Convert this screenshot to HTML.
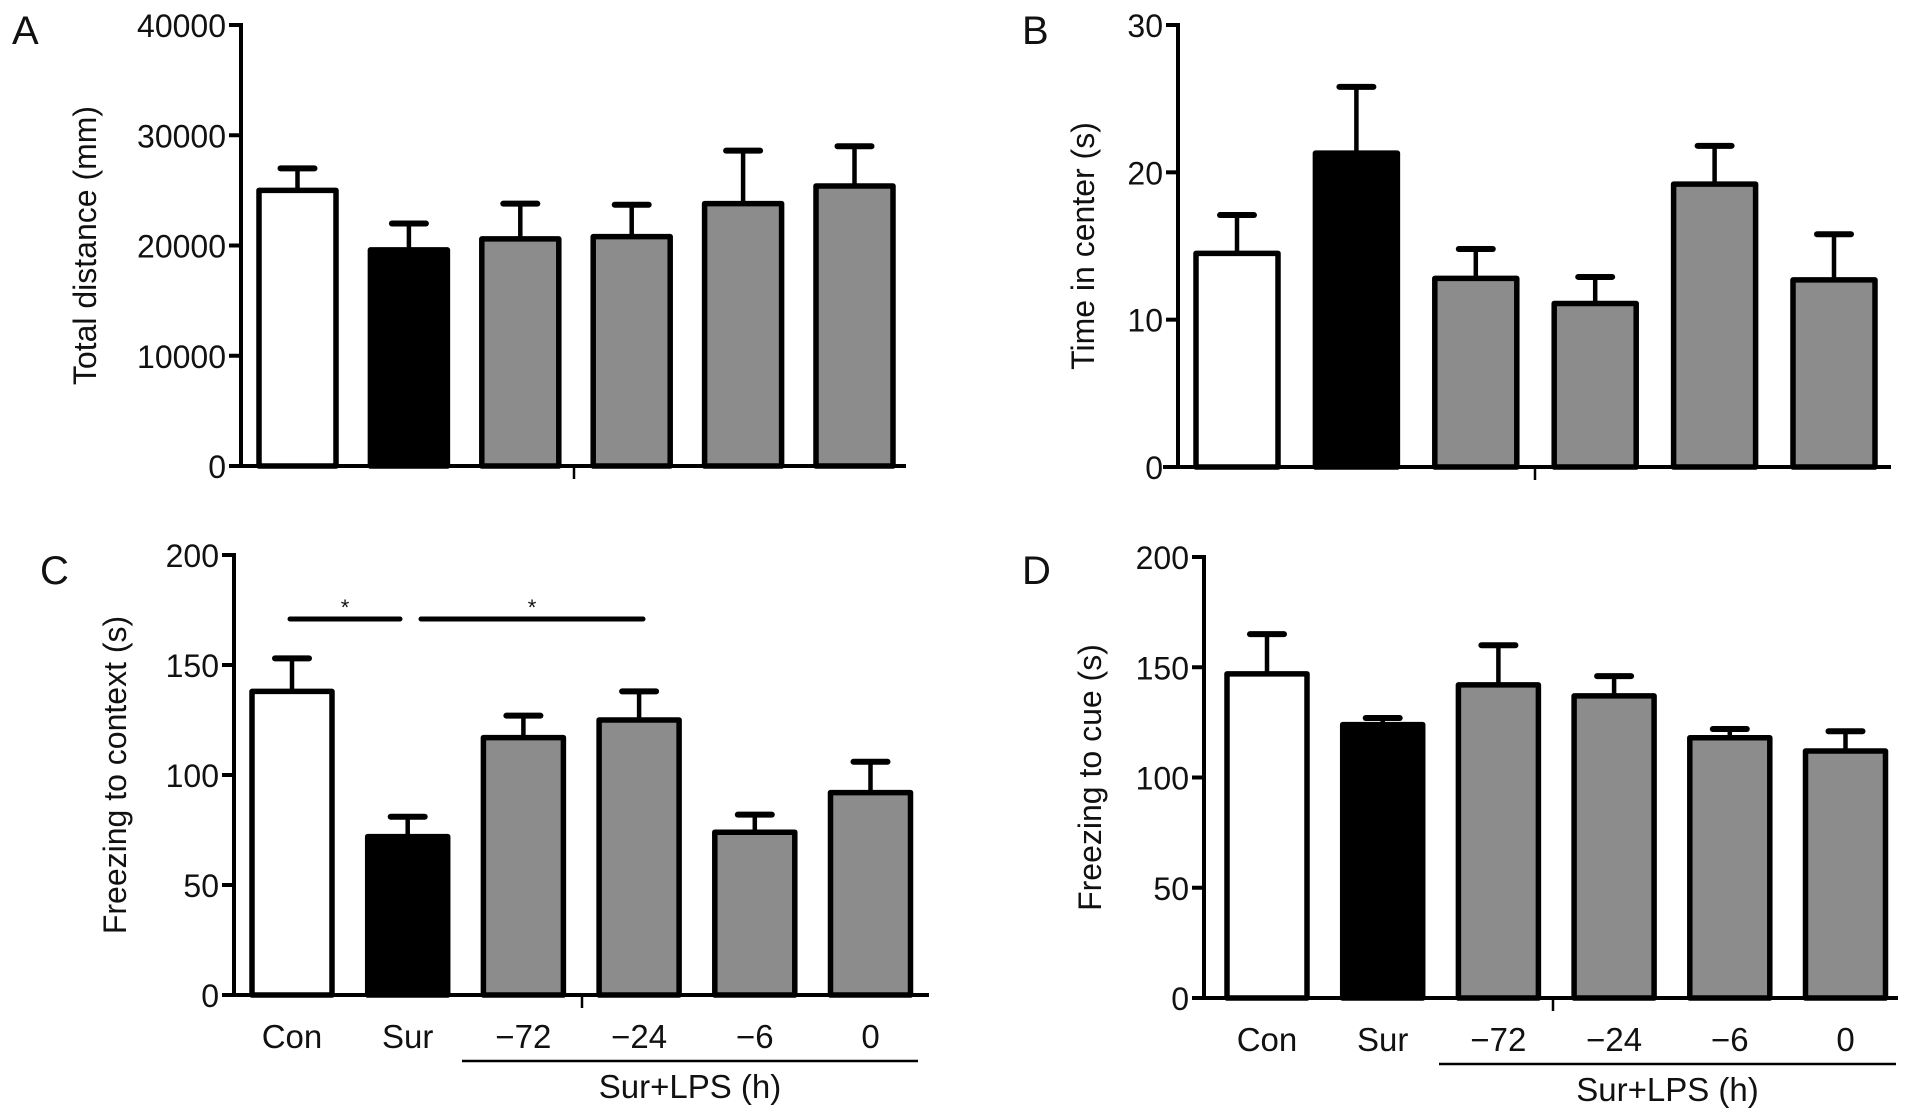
<!DOCTYPE html>
<html><head><meta charset="utf-8"><style>
html,body{margin:0;padding:0;background:#fff;overflow:hidden;}
svg{display:block;font-family:"Liberation Sans",Arial,sans-serif;}
</style></head><body>
<svg id="fig" width="1913" height="1115" viewBox="0 0 1913 1115"></svg>
<script>
const categories = ["Con","Sur","\u221272","\u221224","\u22126","0"];
const fills = ["#ffffff","#000000","#8c8c8c","#8c8c8c","#8c8c8c","#8c8c8c"];
const aMeans = [25000,19600,20600,20800,23800,25400];
const aErrTop = [27000,22000,23800,23700,28600,29000];
const aTicks = [0,10000,20000,30000,40000];
const bMeans = [14.5,21.3,12.8,11.1,19.2,12.7];
const bErrTop = [17.1,25.8,14.8,12.9,21.8,15.8];
const bTicks = [0,10,20,30];
const cMeans = [138,72,117,125,74,92];
const cErrTop = [153,81,127,138,82,106];
const cTicks = [0,50,100,150,200];
const dMeans = [147,124,142,137,118,112];
const dErrTop = [165,127,160,146,122,121];
const dTicks = [0,50,100,150,200];

const NS="http://www.w3.org/2000/svg";
const svg=document.getElementById('fig');
function mk(tag,attrs,parent,text){const e=document.createElementNS(NS,tag);for(const k in attrs)e.setAttribute(k,attrs[k]);if(text!==undefined)e.textContent=text;(parent||svg).appendChild(e);return e;}

const panels=[
 {id:'a',letter:'A',lx:12,ly:44,ax:241,top:25,bot:466,xl:229,xr:906,b0:259,step:111.4,bw:77,max:40000,ticks:aTicks,means:aMeans,err:aErrTop,title:'Total distance (mm)',tx:96,mid:574,labels:false},
 {id:'b',letter:'B',lx:1022,ly:44,ax:1178,top:25,bot:467,xl:1163,xr:1891,b0:1196,step:119.4,bw:82,max:30,ticks:bTicks,means:bMeans,err:bErrTop,title:'Time in center (s)',tx:1094,mid:1535,labels:false},
 {id:'c',letter:'C',lx:40,ly:584,ax:234,top:555,bot:995,xl:222,xr:929,b0:252,step:115.7,bw:80,max:200,ticks:cTicks,means:cMeans,err:cErrTop,title:'Freezing to context (s)',tx:126,mid:582,labels:true,ul:[462,918]},
 {id:'d',letter:'D',lx:1022,ly:584,ax:1204,top:557,bot:998,xl:1193,xr:1898,b0:1227,step:115.7,bw:80,max:200,ticks:dTicks,means:dMeans,err:dErrTop,title:'Freezing to cue (s)',tx:1101,mid:1553,labels:true,ul:[1439,1896]}
];

panels.forEach(p=>{
  const g=mk('g',{},svg);
  
  
  const top=p.top, bot=p.bot;
  const y=v=>bot-(v/p.max)*(bot-top);
  const letter=mk('text',{x:p.lx,y:p.ly,'font-size':40,fill:'#111'},g,p.letter);
  
  
  p.means.forEach((m,i)=>{
    const x=p.b0+i*p.step, cx=x+p.bw/2;
    const eb=mk('line',{x1:cx,x2:cx,y1:y(m),y2:y(p.err[i]),stroke:'#000','stroke-width':4.5},g);
    
    
    const cap=mk('line',{x1:cx-17,x2:cx+17,y1:y(p.err[i]),y2:y(p.err[i]),stroke:'#000','stroke-width':6,'stroke-linecap':'round'},g);
    
    
    const r=mk('rect',{x:x,y:y(m),width:p.bw,height:bot-y(m),fill:fills[i],stroke:'#000','stroke-width':5.5,'stroke-linejoin':'round'},g);
    
    
  });
  const ya=mk('line',{x1:p.ax,x2:p.ax,y1:top-2,y2:bot+2,stroke:'#000','stroke-width':4},g);
  
  
  const xa=mk('line',{x1:p.xl,x2:p.xr,y1:bot,y2:bot,stroke:'#000','stroke-width':4},g);
  
  
  const mt=mk('line',{x1:p.mid,x2:p.mid,y1:bot,y2:bot+13,stroke:'#000','stroke-width':2.5},g);
  
  
  p.ticks.forEach(t=>{
    const tl=mk('line',{x1:p.ax-12,x2:p.ax,y1:y(t),y2:y(t),stroke:'#000','stroke-width':4},g);
    
    
    const tt=mk('text',{x:p.ax-15,y:y(t)+12,'font-size':32,'text-anchor':'end',fill:'#111'},g,String(t));
    
    
  });
  const cy=(top+bot)/2;
  const ti=mk('text',{x:p.tx,y:cy,'font-size':32,'text-anchor':'middle',fill:'#111',transform:`rotate(-90 ${p.tx} ${cy})`},g,p.title);
  
  
  if(p.labels){
    categories.forEach((c,i)=>{
      const cx=p.b0+i*p.step+p.bw/2;
      const lt=mk('text',{x:cx,y:bot+53,'font-size':33,'text-anchor':'middle',fill:'#111'},g,c);
      
      
    });
    const ul=mk('line',{x1:p.ul[0],x2:p.ul[1],y1:bot+66,y2:bot+66,stroke:'#000','stroke-width':2.5},g);
    
    
    const gl=mk('text',{x:(p.ul[0]+p.ul[1])/2,y:bot+103,'font-size':33,'text-anchor':'middle',fill:'#111'},g,'Sur+LPS (h)');
    
    
  }
  if(p.id==='c'){
    const sy=619;
    [[290,400],[421,643]].forEach((s,k)=>{
      const sl=mk('line',{x1:s[0],x2:s[1],y1:sy,y2:sy,stroke:'#000','stroke-width':5,'stroke-linecap':'round'},g);
      
      
      const st=mk('text',{x:(s[0]+s[1])/2,y:sy-4,'font-size':22,'text-anchor':'middle',fill:'#111'},g,'*');
      
      
    });
  }
});
</script>
</body></html>
